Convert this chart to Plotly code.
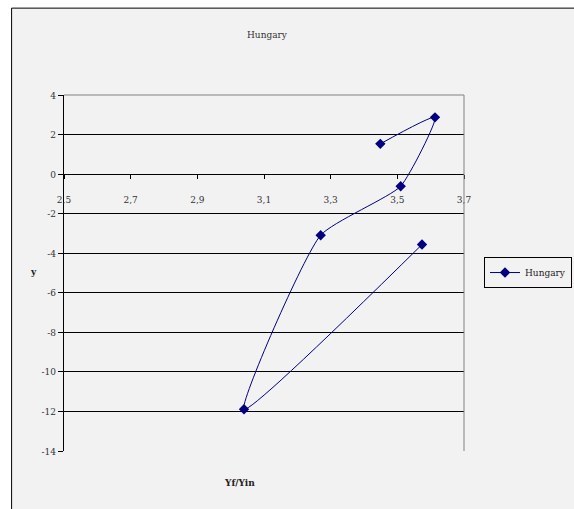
import plotly.graph_objects as go

# Hungary: Yf/Yin against y, in time order
series_name = "Hungary"
yf_yin = [3.449, 3.613, 3.510, 3.270, 3.040, 3.574]
y_vals = [1.53, 2.87, -0.61, -3.09, -11.89, -3.56]

x_ticks = [2.5, 2.7, 2.9, 3.1, 3.3, 3.5, 3.7]
y_ticks = [4, 2, 0, -2, -4, -6, -8, -10, -12, -14]

FONT = "DejaVu Serif Condensed"
NAVY = "#000080"
BG = "#f2f2f2"

# tick labels with decimal comma and plain hyphen minus
x_text = [f"{v:.1f}".replace(".", ",") for v in x_ticks]
y_text = [str(v) for v in y_ticks]

fig = go.Figure()
fig.add_trace(go.Scatter(
    x=yf_yin, y=y_vals, name=series_name,
    mode="lines+markers",
    line=dict(color=NAVY, width=1, shape="spline", smoothing=0.5),
    marker=dict(symbol="diamond", size=8, color=NAVY),
))

# x axis crosses the y axis at y = 0
y_min, y_max = -14, 4
x_cross = (0 - y_min) / (y_max - y_min)

fig.update_layout(
    width=574, height=509,
    margin=dict(l=64, r=110, t=95, b=58),
    paper_bgcolor="white",
    plot_bgcolor=BG,
    font=dict(family=FONT, size=10, color="#333333"),
    showlegend=True,
    legend=dict(
        xref="container", yref="container",
        x=0.9965, y=0.495, xanchor="right", yanchor="top",
        bgcolor=BG, bordercolor="black", borderwidth=1,
        font=dict(family=FONT, size=10, color="#222222"),
        itemwidth=30,
    ),
    xaxis=dict(
        range=[2.5, 3.7], tickvals=x_ticks, ticktext=x_text,
        anchor="free", position=x_cross,
        showgrid=False, zeroline=False,
        showline=True, linecolor="black", linewidth=1,
        ticks="outside", ticklen=4, tickcolor="black",
        ticklabelstandoff=12,
        tickfont=dict(family=FONT, size=10, color="#333333"),
    ),
    yaxis=dict(
        range=[y_min, y_max], tickvals=y_ticks, ticktext=y_text,
        showgrid=True, gridcolor="black", gridwidth=1,
        zeroline=False,
        showline=True, linecolor="black", linewidth=1,
        ticks="outside", ticklen=5, tickcolor="black",
        tickfont=dict(family=FONT, size=10, color="#333333"),
    ),
    shapes=[
        # chart frame
        dict(type="rect", xref="paper", yref="paper",
             x0=-0.131, x1=1.6, y0=-0.6, y1=1.244,
             line=dict(color="black", width=1), fillcolor=BG, layer="below"),
        # plot area border (top and right)
        dict(type="line", xref="paper", yref="paper",
             x0=0, x1=1, y0=1, y1=1,
             line=dict(color="#808080", width=1), layer="above"),
        dict(type="line", xref="paper", yref="paper",
             x0=1, x1=1, y0=0, y1=1,
             line=dict(color="#808080", width=1), layer="above"),
    ],
    annotations=[
        dict(text="Hungary", xref="paper", yref="paper",
             x=0.508, y=1.19, showarrow=False,
             font=dict(family=FONT, size=10, color="#333333")),
        dict(text="<b>y</b>", xref="paper", yref="paper",
             x=-0.09, y=0.503, showarrow=False,
             font=dict(family=FONT, size=10, color="#222222")),
        dict(text="<b>Yf/Yin</b>", xref="paper", yref="paper",
             x=0.439, y=-0.11, showarrow=False,
             font=dict(family=FONT, size=10, color="#222222")),
    ],
)

fig.write_html("out.html")
